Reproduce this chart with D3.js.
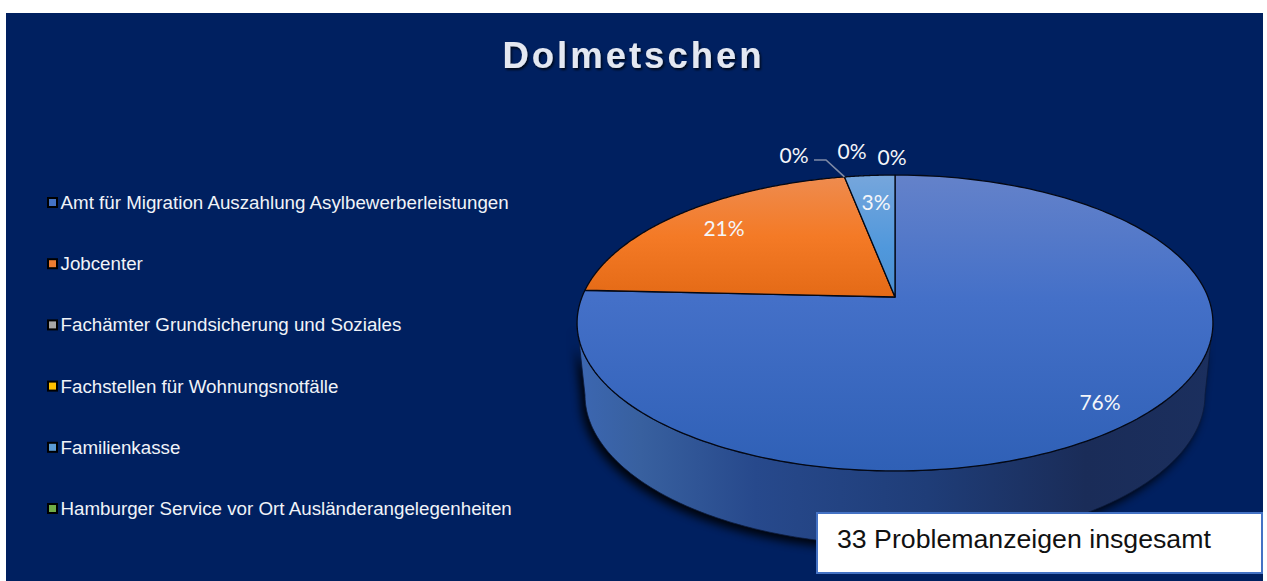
<!DOCTYPE html>
<html><head><meta charset="utf-8">
<script src="https://cdn.jsdelivr.net/npm/d3@7/dist/d3.min.js"></script>
<style>html,body{margin:0;padding:0;background:#fff;overflow:hidden}svg{display:block}</style>
</head><body><svg id="c" width="1267" height="581"></svg>
<script>
const categories = ["Amt für Migration Auszahlung Asylbewerberleistungen","Jobcenter","Fachämter Grundsicherung und Soziales","Fachstellen für Wohnungsnotfälle","Familienkasse","Hamburger Service vor Ort Ausländerangelegenheiten"];
const values = [25, 7, 0, 0, 1, 0];
const colors = ["#4472c4","#ed7d31","#a5a5a5","#ffc000","#5b9bd5","#70ad47"];
const title = "Dolmetschen";
const boxText = "33 Problemanzeigen insgesamt";

// layout
const labelPos = [[1100,402],[724,228],[794,155],[852,151],[876,202],[892,157]];
const P = {cx:895, cy:297, A:143.4, B:313, k:0.1757};
const wall = {cx:895, cy:395, rx:310, ry:150};

const svg = d3.select("#c");
const defs = svg.append("defs");
function grad(id, stops, horiz, a, b){
  const g = defs.append("linearGradient").attr("id",id).attr("gradientUnits","userSpaceOnUse");
  if(horiz) g.attr("x1",a).attr("x2",b).attr("y1",0).attr("y2",0);
  else g.attr("x1",0).attr("x2",0).attr("y1",a).attr("y2",b);
  stops.forEach(s=>g.append("stop").attr("offset",s[0]).attr("stop-color",s[1]));
}
grad("g0",[[0,"#6482ca"],[0.42,"#4470c8"],[1,"#2f60b6"]],false,175,471);
grad("g1",[[0,"#ee8c50"],[0.5,"#f47a26"],[1,"#e46a16"]],false,175,297);
grad("g2",[[0,"#a5a5a5"],[1,"#a5a5a5"]],false,175,297);
grad("g3",[[0,"#ffc000"],[1,"#ffc000"]],false,175,297);
grad("g4",[[0,"#76a6dc"],[0.6,"#5098dc"],[1,"#4a8ecf"]],false,175,297);
grad("g5",[[0,"#70ad47"],[1,"#70ad47"]],false,175,297);
grad("gw",[[0,"#3c67b2"],[0.1,"#38609f"],[0.28,"#27498c"],[0.55,"#1f3d78"],[0.8,"#1a2c58"],[1,"#1b2f5e"]],true,577,1213);
const blur = defs.append("filter").attr("id","blur").attr("x","-10%").attr("y","-10%").attr("width","120%").attr("height","120%");
blur.append("feGaussianBlur").attr("stdDeviation",5);
const ts = defs.append("filter").attr("id","ts").attr("x","-10%").attr("y","-20%").attr("width","120%").attr("height","150%");
ts.append("feDropShadow").attr("dx",1.5).attr("dy",2).attr("stdDeviation",1.2).attr("flood-color","#000").attr("flood-opacity",0.75);

svg.append("rect").attr("x",6).attr("y",13).attr("width",1257).attr("height",568).attr("fill","#002060");

svg.append("text").attr("x",633.5).attr("y",68).attr("text-anchor","middle")
  .attr("font-family","Liberation Sans").attr("font-weight","bold").attr("font-size",36.5)
  .attr("letter-spacing",3).attr("fill","#e4e8f1").attr("filter","url(#ts)").text(title);

// legend
const legendY = d3.scalePoint().domain(categories).range([203,509]);
const lg = svg.append("g").selectAll("g").data(categories).join("g")
  .attr("transform",d=>`translate(0,${legendY(d)})`);
lg.append("rect").attr("x",48).attr("y",-5).attr("width",9).attr("height",9)
  .attr("fill",(d,i)=>colors[i]).attr("stroke","#000").attr("stroke-width",2);
lg.append("text").attr("x",60.5).attr("y",6).attr("font-family","Liberation Sans").attr("font-size",18.75)
  .attr("fill","#f0f3f8").text(d=>d);

// perspective projection of a disk
function project(a, r){
  const x = r*Math.sin(a), y = r*Math.cos(a), w = 1 + P.k*y;
  return [P.cx + P.B*x/w, P.cy - P.A*y/w];
}
const line = d3.line();
const TAU = 2*Math.PI;
const sweep = (a0,a1,n=200)=>d3.range(n+1).map(i=>a0+(a1-a0)*i/n);
const frontStart = TAU/4 + Math.asin(P.k), frontEnd = 3*TAU/4 - Math.asin(P.k);
const wallPt = a=>[wall.cx + wall.rx*Math.sin(a), wall.cy - wall.ry*Math.cos(a)];
const wallPath = line([
  ...sweep(frontStart,frontEnd).map(a=>project(a,1)),
  ...sweep(3*TAU/4,TAU/4).map(wallPt)
]) + "Z";

// shadow and side wall
svg.append("path").attr("d",wallPath).attr("fill","#000").attr("opacity",0.9)
  .attr("transform","translate(-4,5)").attr("filter","url(#blur)");
svg.append("path").attr("d",wallPath).attr("fill","url(#gw)").attr("stroke","#0b1a3c").attr("stroke-width",0.8);

// slices
const pie = d3.pie().sort(null).value(d=>d).startAngle(0).endAngle(TAU);
const arcs = pie(values);
svg.append("g").selectAll("path").data(arcs).join("path")
  .attr("d",d=>{
    if(d.endAngle-d.startAngle<=0) return null;
    return line([[P.cx,P.cy],...sweep(d.startAngle,d.endAngle).map(a=>project(a,1))])+"Z";
  })
  .attr("fill",(d,i)=>`url(#g${i})`).attr("stroke","#040814").attr("stroke-width",1.3).attr("stroke-linejoin","round");

// leader line for the first zero label
const leaderEnd = project(arcs[2].startAngle,1);
svg.append("path").attr("d",line([[814,160],[826,160],leaderEnd])).attr("fill","none")
  .attr("stroke","#7f8ba6").attr("stroke-width",1.6);

// data labels
const pct = d3.format(".0%");
const total = d3.sum(values);
svg.append("g").selectAll("text").data(values).join("text")
  .attr("x",(d,i)=>labelPos[i][0]).attr("y",(d,i)=>labelPos[i][1]+7.5)
  .attr("text-anchor","middle").attr("font-family","Lato").attr("font-size",21)
  .attr("fill","#f4f6fa").text(d=>pct(d/total));

// text box
svg.append("rect").attr("x",817).attr("y",513).attr("width",445).attr("height",60)
  .attr("fill","#fff").attr("stroke","#4472c4").attr("stroke-width",2);
svg.append("text").attr("x",837).attr("y",548).attr("font-family","Liberation Sans").attr("font-size",26.7)
  .attr("fill","#111").text(boxText);
</script></body></html>
